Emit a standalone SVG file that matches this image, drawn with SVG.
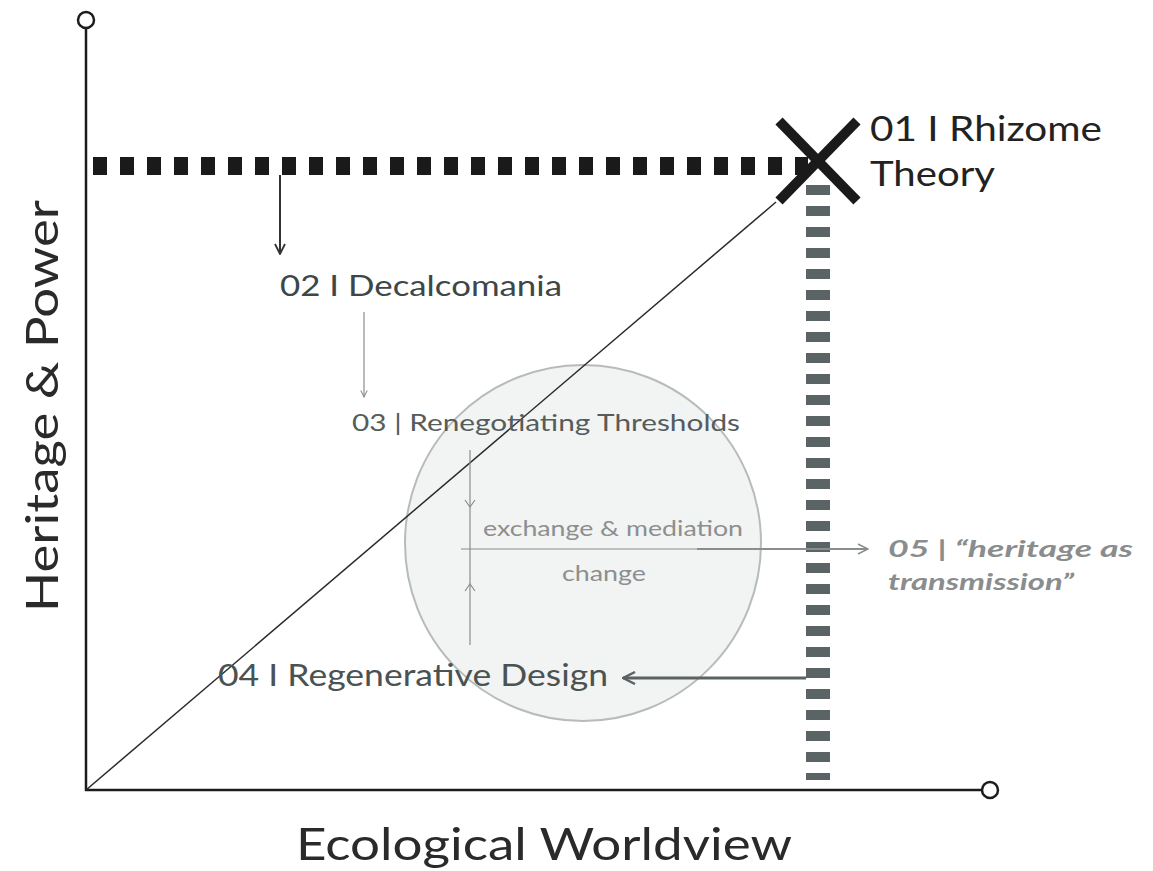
<svg xmlns="http://www.w3.org/2000/svg" width="1153" height="871" viewBox="0 0 1153 871">
<defs>
<style>
text{font-family:Lato,"Open Sans","Liberation Sans",sans-serif}
.axis{stroke:#1c1c1c;stroke-width:2.5;fill:none}
.dot{stroke:#1c1c1c;stroke-width:2.5;fill:#fff}
.lbl{fill:#3e4646}
.thin{stroke:#8a8d8d;stroke-width:1.2;fill:none}
</style>
<marker id="chev" viewBox="0 0 12 12" refX="11" refY="6" markerWidth="12" markerHeight="12" markerUnits="userSpaceOnUse" orient="auto">
<path d="M1,1 L11,6 L1,11" fill="none" stroke="#333" stroke-width="1.8"/>
</marker>
<marker id="chevs" viewBox="0 0 10 10" refX="9" refY="5" markerWidth="8" markerHeight="8" markerUnits="userSpaceOnUse" orient="auto">
<path d="M1,1 L9,5 L1,9" fill="none" stroke="#8a8d8d" stroke-width="1.3"/>
</marker>
<marker id="chevg" viewBox="0 0 14 14" refX="13" refY="7" markerWidth="14" markerHeight="14" markerUnits="userSpaceOnUse" orient="auto">
<path d="M1,1 L13,7 L1,13" fill="none" stroke="#5a6262" stroke-width="2.4"/>
</marker>
<marker id="chev5" viewBox="0 0 12 12" refX="11" refY="6" markerWidth="12" markerHeight="12" markerUnits="userSpaceOnUse" orient="auto">
<path d="M1,1 L11,6 L1,11" fill="none" stroke="#8a8d8d" stroke-width="1.5"/>
</marker>
</defs>
<rect width="1153" height="871" fill="#fff"/>

<g id="circle-node">
<circle cx="583" cy="543" r="178" fill="#f2f3f3" stroke="#b8bbbb" stroke-width="2"/>
</g>

<g id="axes">
<line class="axis" x1="86" y1="28" x2="86" y2="791"/>
<line class="axis" x1="85" y1="790" x2="982" y2="790"/>
<circle class="dot" cx="86" cy="20" r="8"/>
<circle class="dot" cx="990" cy="790" r="8"/>
<line x1="86" y1="790" x2="776" y2="202" stroke="#2a2a2a" stroke-width="1.5"/>
</g>

<g id="connectors">
<line x1="86" y1="166" x2="808" y2="166" stroke="#1a1a1a" stroke-width="18" stroke-dasharray="14 13" stroke-dashoffset="-7"/>
<line x1="818" y1="185" x2="818" y2="780" stroke="#5a6464" stroke-width="24" stroke-dasharray="10 11"/>
<line x1="280" y1="175" x2="280" y2="254" stroke="#333" stroke-width="2" marker-end="url(#chev)"/>
<line x1="364" y1="312" x2="364" y2="397" class="thin" marker-end="url(#chevs)"/>
<line x1="470" y1="450" x2="470" y2="645" class="thin"/>
<path d="M465,500 L470,507 L475,500" class="thin"/>
<path d="M465,591 L470,584 L475,591" class="thin"/>
<line x1="461" y1="549" x2="697" y2="549" class="thin"/>
<line x1="697" y1="549" x2="868" y2="549" stroke="#8a8d8d" stroke-width="2" marker-end="url(#chev5)"/>
<line x1="806" y1="678" x2="623" y2="678" stroke="#5a6262" stroke-width="3" marker-end="url(#chevg)"/>
</g>

<g id="node-01">
<line x1="779" y1="121" x2="857" y2="201" stroke="#1a1a1a" stroke-width="10"/>
<line x1="857" y1="121" x2="779" y2="201" stroke="#1a1a1a" stroke-width="10"/>
<text x="870" y="141" font-size="34" fill="#222" textLength="232" lengthAdjust="spacingAndGlyphs">01 I Rhizome</text>
<text x="870" y="186" font-size="34" fill="#222" textLength="125" lengthAdjust="spacingAndGlyphs">Theory</text>
</g>

<g id="node-02">
<text x="280" y="296" font-size="28" class="lbl" textLength="282" lengthAdjust="spacingAndGlyphs">02 I Decalcomania</text>
</g>

<g id="node-03">
<text x="352" y="431" font-size="23.5" fill="#555c5c" textLength="388" lengthAdjust="spacingAndGlyphs">03 | Renegotiating Thresholds</text>
<text x="483" y="536" font-size="21" fill="#8c8f8f" textLength="260" lengthAdjust="spacingAndGlyphs">exchange &amp; mediation</text>
<text x="562" y="581" font-size="21" fill="#8c8f8f" textLength="84" lengthAdjust="spacingAndGlyphs">change</text>
</g>

<g id="node-04">
<text x="218" y="686" font-size="30" fill="#4a5252" textLength="390" lengthAdjust="spacingAndGlyphs">04 I Regenerative Design</text>
</g>

<g id="node-05">
<text x="888" y="557" font-size="23" font-weight="bold" font-style="italic" fill="#8a8d8d" textLength="245" lengthAdjust="spacingAndGlyphs">05 | “heritage as</text>
<text x="888" y="590" font-size="23" font-weight="bold" font-style="italic" fill="#8a8d8d" textLength="186" lengthAdjust="spacingAndGlyphs">transmission”</text>
</g>

<g id="axis-labels">
<text x="296" y="860" font-size="45" fill="#2a2a2a" textLength="496" lengthAdjust="spacingAndGlyphs">Ecological Worldview</text>
<text transform="translate(58,612) rotate(-90)" font-size="44" fill="#2a2a2a" textLength="412" lengthAdjust="spacingAndGlyphs">Heritage &amp; Power</text>
</g>
</svg>
